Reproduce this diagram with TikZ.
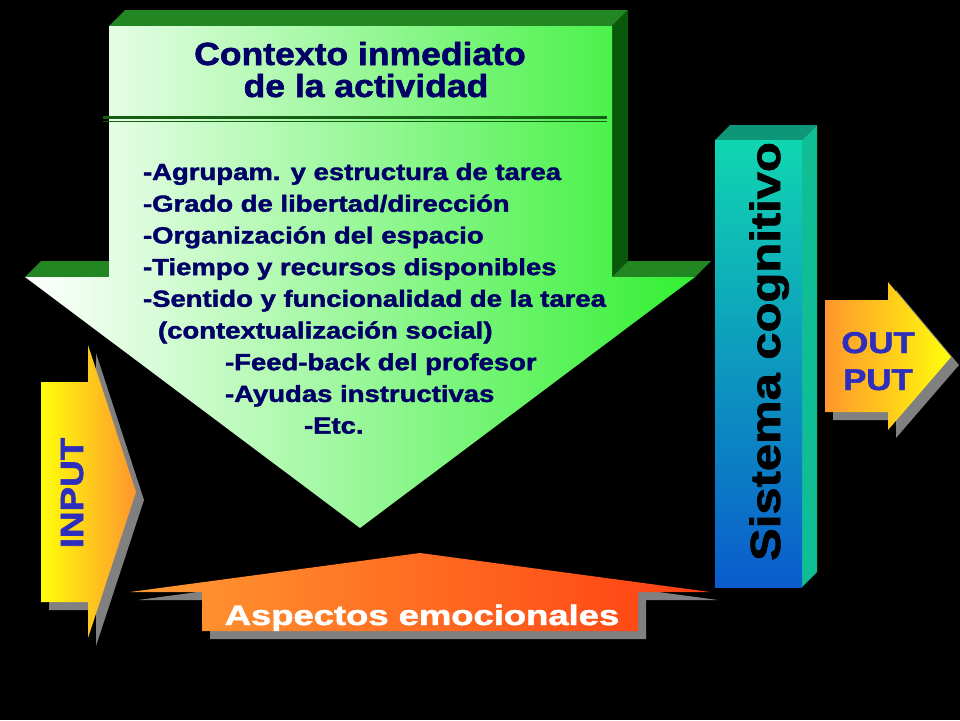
\documentclass[tikz,border=0pt]{standalone}
\usepackage{fontspec}
\setmainfont{Liberation Sans}[BoldFeatures={FakeBold=1.6}]
\usepackage{graphicx}
\definecolor{navytext}{RGB}{0,0,102}
\definecolor{bluetext}{RGB}{45,45,190}
\definecolor{gtop}{RGB}{34,135,34}
\definecolor{gside}{RGB}{10,88,10}
\definecolor{gbright}{RGB}{50,240,50}
\definecolor{gline}{RGB}{20,95,20}
\definecolor{shadowgray}{RGB}{128,128,128}
\definecolor{yel}{RGB}{255,255,10}
\definecolor{orng}{RGB}{255,150,45}
\definecolor{orngA}{RGB}{255,155,50}
\definecolor{redorng}{RGB}{255,62,18}
\definecolor{tealtop}{RGB}{14,150,120}
\definecolor{tealside}{RGB}{16,190,150}
\definecolor{sysA}{RGB}{16,214,176}
\definecolor{sysB}{RGB}{32,198,226}
\definecolor{sysC}{RGB}{10,92,205}
\tikzset{
  txt/.style={inner sep=0pt, outer sep=0pt},
  listline/.style={txt, anchor=base west, text=navytext, font=\fontsize{23.3}{28}\selectfont\bfseries},
  titleline/.style={txt, anchor=base, text=navytext, font=\fontsize{32}{38}\selectfont\bfseries},
  shadow/.style={fill=shadowgray},
}
\begin{document}
\begin{tikzpicture}[x=1pt,y=-1pt]
\fill[black] (0,0) rectangle (960,720);
\useasboundingbox (0,0) rectangle (960,720);

% ---- main down arrow (3D) ----
\fill[gtop] (109,26) -- (125,10) -- (628,10) -- (612,26) -- cycle;
\fill[gside] (612,26) -- (628,10) -- (628,261) -- (612,277) -- cycle;
\fill[gtop] (25,277) -- (41,261) -- (109,261) -- (109,277) -- cycle;
\fill[gtop] (612,277) -- (628,261) -- (711,261) -- (695,277) -- cycle;
\path[left color=white, right color=gbright]
  (109,26) -- (612,26) -- (612,277) -- (695,277) -- (360,528) -- (25,277) -- (109,277) -- cycle;
\draw[line width=3pt, gline] (103,117) -- (607,117);
\draw[line width=1pt, gline] (103,121.5) -- (607,121.5);

\node[titleline] (t1) at (360,65) {\scalebox{1.11}[1]{Contexto inmediato}};
\node[titleline] (t2) at (366,97) {\scalebox{1.11}[1]{de la actividad}};

\node[listline] (l1) at (143,180) {\scalebox{1.18}[1]{-Agrupam. y estructura de tarea}};
\node[listline] (l2) at (143,211.7) {\scalebox{1.18}[1]{-Grado de libertad/dirección}};
\node[listline] (l3) at (143,243.4) {\scalebox{1.18}[1]{-Organización del espacio}};
\node[listline] (l4) at (143,275.1) {\scalebox{1.18}[1]{-Tiempo y recursos disponibles}};
\node[listline] (l5) at (143,306.8) {\scalebox{1.18}[1]{-Sentido y funcionalidad de la tarea}};
\node[listline] (l6) at (158,338.5) {\scalebox{1.18}[1]{(contextualización social)}};
\node[listline] (l7) at (225,370.2) {\scalebox{1.18}[1]{-Feed-back del profesor}};
\node[listline] (l8) at (225,401.9) {\scalebox{1.18}[1]{-Ayudas instructivas}};
\node[listline] (l9) at (304,433.6) {\scalebox{1.18}[1]{-Etc.}};

% ---- INPUT arrow ----
\fill[shadow] (49,390) -- (96,390) -- (96,353) -- (144,500) -- (96,646) -- (96,610) -- (49,610) -- cycle;
\path[left color=yel, right color=orng]
  (41,382) -- (88,382) -- (88,345) -- (136,492) -- (88,638) -- (88,602) -- (41,602) -- cycle;
\node[txt, rotate=90, anchor=base, text=bluetext, font=\fontsize{32}{38}\selectfont\bfseries]
  (input) at (83,493) {\scalebox{1.15}[1]{INPUT}};

% ---- OUTPUT arrow ----
\fill[shadow] (833,308) -- (896,308) -- (896,290) -- (959,365) -- (896,438) -- (896,420) -- (833,420) -- cycle;
\path[left color=orng, right color=yel]
  (825,300) -- (888,300) -- (888,282) -- (951,357) -- (888,430) -- (888,412) -- (825,412) -- cycle;
\node[txt, anchor=base, text=bluetext, font=\fontsize{30}{36}\selectfont\bfseries] (out1) at (878,353) {\scalebox{1.16}[1]{OUT}};
\node[txt, anchor=base, text=bluetext, font=\fontsize{30}{36}\selectfont\bfseries] (out2) at (878,390) {\scalebox{1.16}[1]{PUT}};

% ---- Sistema cognitivo box ----
\fill[tealtop] (715,140) -- (730,125) -- (817,125) -- (802,140) -- cycle;
\fill[tealside] (802,140) -- (817,125) -- (817,572) -- (802,587) -- cycle;
\path[top color=sysA, middle color=sysB, bottom color=sysC] (715,140) rectangle (802,587);
\node[txt, rotate=90, anchor=base, text=black, font=\fontsize{42}{50}\selectfont\bfseries]
  (sys) at (780,351.5) {\scalebox{1.165}[1]{Sistema cognitivo}};

% ---- Aspectos emocionales arrow ----
\fill[shadow] (428,561) -- (718,600) -- (646,600) -- (646,639) -- (210,639) -- (210,600) -- (138,600) -- cycle;
\path[left color=orngA, right color=redorng]
  (420,553) -- (710,592) -- (638,592) -- (638,631) -- (202,631) -- (202,592) -- (130,592) -- cycle;
\node[txt, anchor=base, text=white, font=\fontsize{28}{34}\selectfont\bfseries]
  (asp) at (422,625) {\scalebox{1.3}[1]{Aspectos emocionales}};
\end{tikzpicture}
\end{document}
